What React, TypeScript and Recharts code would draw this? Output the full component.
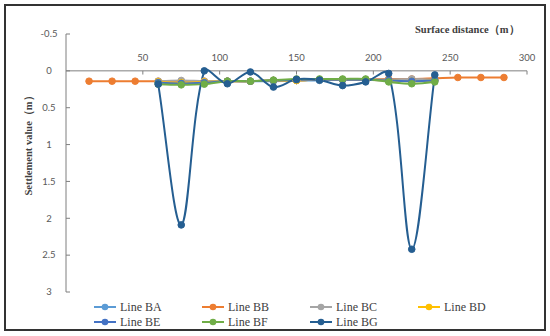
import React from 'react'
import { LineChart, Line, XAxis, YAxis, ReferenceLine, ReferenceDot } from 'recharts'

// distances (m)
const distanceBB = [15, 30, 45, 60, 75, 90, 105, 120, 135, 150, 165, 180, 195, 210, 225, 240, 255, 270, 285]
const distanceMain = [60, 75, 90, 105, 120, 135, 150, 165, 180, 195, 210, 225, 240]

// settlement values (m)
const lineBA = [0.15, 0.15, 0.15, 0.14, 0.14, 0.14, 0.13, 0.13, 0.12, 0.12, 0.12, 0.13, 0.13]
const lineBB = [0.14, 0.14, 0.14, 0.14, 0.14, 0.14, 0.14, 0.14, 0.13, 0.13, 0.12, 0.12, 0.12, 0.11, 0.11, 0.1, 0.09, 0.09, 0.09]
const lineBC = [0.14, 0.13, 0.14, 0.14, 0.14, 0.13, 0.13, 0.12, 0.12, 0.12, 0.12, 0.11, 0.12]
const lineBD = [0.15, 0.16, 0.15, 0.14, 0.14, 0.13, 0.13, 0.12, 0.12, 0.12, 0.13, 0.14, 0.13]
const lineBE = [0.16, 0.17, 0.16, 0.14, 0.14, 0.13, 0.12, 0.12, 0.12, 0.12, 0.13, 0.14, 0.13]
const lineBF = [0.18, 0.19, 0.18, 0.14, 0.14, 0.125, 0.11, 0.11, 0.11, 0.11, 0.15, 0.175, 0.15]
const lineBG = [0.18, 2.09, 0.0, 0.175, 0.015, 0.22, 0.115, 0.125, 0.2, 0.15, 0.035, 2.42, 0.055]

const xTicks = [50, 100, 150, 200, 250, 300]
const yTicks = [-0.5, 0, 0.5, 1, 1.5, 2, 2.5, 3]

const toPoints = (xs: number[], ys: number[]) => xs.map((x, i) => ({ x, y: ys[i] }))

const series = [
  { name: 'Line BA', color: '#5B9BD5', data: toPoints(distanceMain, lineBA) },
  { name: 'Line BB', color: '#ED7D31', data: toPoints(distanceBB, lineBB) },
  { name: 'Line BC', color: '#A5A5A5', data: toPoints(distanceMain, lineBC) },
  { name: 'Line BD', color: '#FFC000', data: toPoints(distanceMain, lineBD) },
  { name: 'Line BE', color: '#4472C4', data: toPoints(distanceMain, lineBE) },
  { name: 'Line BF', color: '#70AD47', data: toPoints(distanceMain, lineBF) },
  { name: 'Line BG', color: '#255E91', data: toPoints(distanceMain, lineBG) },
]

const axisColor = '#7f7f7f'
const tickColor = '#595959'
const tickFont = 'Lato, "Liberation Sans", sans-serif'
const serif = '"Liberation Serif", "Times New Roman", serif'

// Excel-like smoothed line: bezier with control arms scaled by segment length
const excelCurve = (context: any) => {
  let pts: number[][] = []
  const dist = (a: number[], b: number[]) => Math.hypot(b[0] - a[0], b[1] - a[1])
  return {
    areaStart() {},
    areaEnd() {},
    lineStart() {
      pts = []
    },
    point(x: number, y: number) {
      pts.push([+x, +y])
    },
    lineEnd() {
      if (!pts.length) return
      context.moveTo(pts[0][0], pts[0][1])
      for (let i = 0; i < pts.length - 1; i++) {
        const p0 = pts[i - 1] || pts[i]
        const p1 = pts[i]
        const p2 = pts[i + 1]
        const p3 = pts[i + 2] || pts[i + 1]
        const d01 = dist(p0, p1)
        const d12 = dist(p1, p2)
        const d23 = dist(p2, p3)
        const f = d01 + d12 > 0 ? d12 / (d01 + d12) : 0
        const g = d12 + d23 > 0 ? d12 / (d12 + d23) : 0
        const c1 = [p1[0] + ((p2[0] - p0[0]) * f) / 3, p1[1] + ((p2[1] - p0[1]) * f) / 3]
        const c2 = [p2[0] - ((p3[0] - p1[0]) * g) / 3, p2[1] - ((p3[1] - p1[1]) * g) / 3]
        context.bezierCurveTo(c1[0], c1[1], c2[0], c2[1], p2[0], p2[1])
      }
    },
  }
}

const YTick = (props: any) => {
  const { x, y, payload } = props
  return (
    <g>
      <line x1={x} x2={x + 4} y1={y} y2={y} stroke={axisColor} />
      <text x={x - 17} y={y} dy="0.35em" textAnchor="middle" fill={tickColor} fontSize={9.5} fontFamily={tickFont}>
        {payload.value}
      </text>
    </g>
  )
}

export default function App() {
  return (
    <div style={{ position: 'absolute', left: 0, top: 0, width: 550, height: 336, background: '#fff' }}>
      <div
        style={{
          position: 'absolute',
          left: 4,
          top: 4,
          width: 542,
          height: 327,
          border: '2px solid #333',
          boxSizing: 'border-box',
        }}
      />
      <LineChart width={550} height={336} data={series[1].data} margin={{ top: 34, right: 23, bottom: 44, left: 0 }}>
        <XAxis dataKey="x" type="number" domain={[0, 300]} ticks={xTicks} hide allowDataOverflow />
        <YAxis
          type="number"
          domain={[-0.5, 3]}
          ticks={yTicks}
          reversed
          width={66}
          tickSize={0}
          tickMargin={0}
          tickLine={false}
          axisLine={{ stroke: axisColor }}
          tick={<YTick />}
          interval={0}
          allowDataOverflow
        />
        <ReferenceLine y={0} stroke={axisColor} />
        {xTicks.map((t) => (
          <ReferenceLine
            key={'t' + t}
            segment={[
              { x: t, y: 0 },
              { x: t, y: 0.05 },
            ]}
            stroke={axisColor}
          />
        ))}
        {xTicks.map((t) => (
          <ReferenceDot
            key={'l' + t}
            x={t}
            y={0}
            r={0}
            fill="none"
            stroke="none"
            label={{ value: t, position: 'top', offset: 10, fill: tickColor, fontSize: 9.5, fontFamily: tickFont }}
          />
        ))}
        {series.map((s) => (
          <Line
            key={s.name}
            name={s.name}
            data={s.data}
            dataKey="y"
            type={excelCurve as any}
            stroke={s.color}
            strokeWidth={2}
            dot={{ r: 3.3, fill: s.color, stroke: s.color, strokeWidth: 1 }}
            isAnimationActive={false}
          />
        ))}
      </LineChart>

      <div
        style={{
          position: 'absolute',
          left: 415,
          top: 24,
          lineHeight: '12px',
          fontFamily: serif,
          fontWeight: 'bold',
          fontSize: 10.5,
          color: '#404040',
          whiteSpace: 'nowrap',
        }}
      >
        Surface distance（m）
      </div>
      <div
        style={{
          position: 'absolute',
          left: 29,
          top: 143,
          transform: 'translate(-50%, -50%) rotate(-90deg)',
          lineHeight: '12px',
          fontFamily: serif,
          fontWeight: 'bold',
          fontSize: 10.5,
          color: '#404040',
          whiteSpace: 'nowrap',
        }}
      >
        Settlement value（m）
      </div>

      <div
        style={{
          position: 'absolute',
          left: 94,
          top: 301,
          display: 'grid',
          gridTemplateColumns: 'repeat(4, 108px)',
          rowGap: 3,
        }}
      >
        {series.map((s) => (
          <div key={s.name} style={{ display: 'flex', alignItems: 'center', height: 12 }}>
            <svg width={24} height={8} style={{ display: 'block' }}>
              <line x1={0} x2={22} y1={4} y2={4} stroke={s.color} strokeWidth={2} />
              <circle cx={11} cy={4} r={3.3} fill={s.color} />
            </svg>
            <span
              style={{
                marginLeft: 2,
                fontFamily: serif,
                fontSize: 12,
                color: '#404040',
                lineHeight: '12px',
                whiteSpace: 'nowrap',
              }}
            >
              {s.name}
            </span>
          </div>
        ))}
      </div>
    </div>
  )
}
